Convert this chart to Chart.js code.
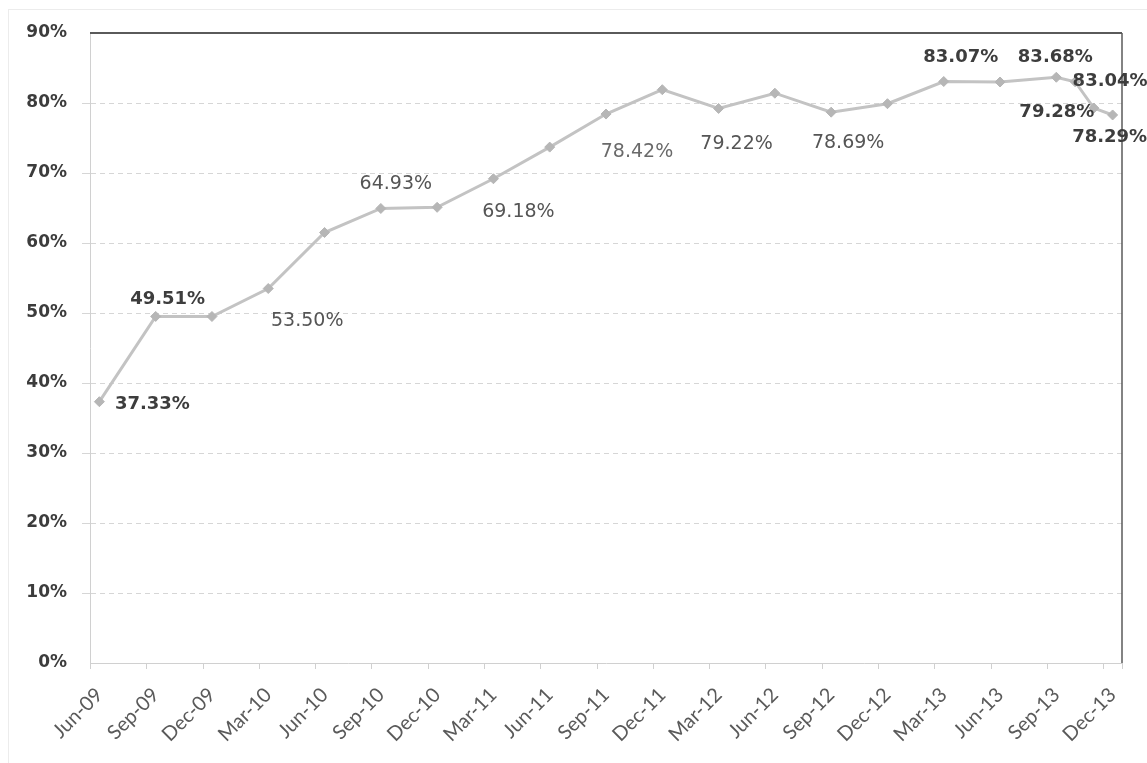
<!DOCTYPE html>
<html>
<head>
<meta charset="utf-8">
<script src="https://cdn.jsdelivr.net/npm/chart.js@4/dist/chart.umd.min.js"></script>
<style>
  html, body { margin: 0; padding: 0; background: #ffffff; }
  #wrap { width: 1147px; height: 763px; position: relative; }
</style>
</head>
<body>
<div id="wrap"><canvas id="c" width="1147" height="763"></canvas></div>
<script>
// ---- data ----
const quarterLabels = ["Jun-09","Sep-09","Dec-09","Mar-10","Jun-10","Sep-10","Dec-10","Mar-11","Jun-11","Sep-11","Dec-11","Mar-12","Jun-12","Sep-12","Dec-12","Mar-13","Jun-13","Sep-13","Dec-13"];
// month offset from Jun-09 for each observation
const monthIndex = [0,3,6,9,12,15,18,21,24,27,30,33,36,39,42,45,48,51,52,53,54];
const ratio = [37.33,49.51,49.5,53.50,61.5,64.93,65.1,69.18,73.7,78.42,81.9,79.22,81.4,78.69,79.9,83.07,83.0,83.68,83.04,79.28,78.29];
// which observations carry a value label
const labelled = [0,1,3,5,7,9,11,13,15,17,18,19,20];
const yTicks = [0,10,20,30,40,50,60,70,80,90];

// ---- label styling (offsets in px from point, weight) ----
const labelStyle = {
  0:  {dx: 53, dy: 3,   bold: true},
  1:  {dx: 12, dy: -17, bold: true},
  3:  {dx: 39, dy: 33,  bold: false},
  5:  {dx: 15, dy: -24, bold: false},
  7:  {dx: 25, dy: 33,  bold: false},
  9:  {dx: 31, dy: 38,  bold: false, light: true},
  11: {dx: 18, dy: 36,  bold: false},
  13: {dx: 17, dy: 31,  bold: false},
  15: {dx: 17, dy: -24, bold: true},
  17: {dx: -1, dy: -20, bold: true},
  18: {dx: 35, dy: 0,   bold: true},
  19: {dx: -37, dy: 4,  bold: true},
  20: {dx: -3, dy: 22,  bold: true}
};

const points = monthIndex.map((m, i) => ({x: m, y: ratio[i]}));
const tickMonths = quarterLabels.map((_, i) => i * 3);

const valueLabels = {
  id: 'valueLabels',
  afterDatasetsDraw(chart) {
    const ctx = chart.ctx;
    const meta = chart.getDatasetMeta(0);
    ctx.save();
    ctx.textAlign = 'center';
    ctx.textBaseline = 'middle';
    labelled.forEach(i => {
      const el = meta.data[i];
      const st = labelStyle[i];
      ctx.font = (st.bold ? 'bold 18px' : '19px') + ' "DejaVu Sans", sans-serif';
      ctx.fillStyle = st.bold ? '#3d3d3d' : (st.light ? '#6a6a6a' : '#555555');
      ctx.fillText(ratio[i].toFixed(2) + '%', el.x + st.dx, el.y + st.dy);
    });
    ctx.restore();
  }
};

const frame = {
  id: 'frame',
  beforeDraw(chart) {
    const ctx = chart.ctx;
    ctx.save();
    ctx.fillStyle = '#ffffff';
    ctx.fillRect(0, 0, chart.width, chart.height);
    ctx.strokeStyle = '#ececec';
    ctx.lineWidth = 1;
    ctx.strokeRect(8.5, 9.5, chart.width + 10, chart.height + 10);
    ctx.restore();
  },
  afterDatasetsDraw(chart) {
    const a = chart.chartArea;
    const ctx = chart.ctx;
    const xs = chart.scales.x;
    ctx.save();
    // x-axis tick marks between the monthly slots (Excel date-axis style)
    ctx.strokeStyle = '#d0d0d0';
    ctx.lineWidth = 1;
    ctx.beginPath();
    tickMonths.concat([54 + 3]).forEach(m => {
      const px = Math.round(xs.getPixelForValue(Math.min(m - 0.5, 54.5))) + 0.5;
      ctx.moveTo(px, a.bottom);
      ctx.lineTo(px, a.bottom + 6);
    });
    ctx.stroke();
    ctx.strokeStyle = '#5a5a5a';
    ctx.lineWidth = 2;
    ctx.beginPath();
    ctx.moveTo(a.left, a.top);
    ctx.lineTo(a.right, a.top);
    ctx.stroke();
    ctx.lineWidth = 1.5;
    ctx.beginPath();
    ctx.moveTo(a.right, a.top);
    ctx.lineTo(a.right, a.bottom);
    ctx.stroke();
    ctx.restore();
  }
};

new Chart(document.getElementById('c'), {
  type: 'line',
  data: {
    datasets: [{
      data: points,
      borderColor: '#c3c3c3',
      borderWidth: 3,
      tension: 0,
      pointStyle: 'rectRot',
      pointRadius: 5,
      pointBackgroundColor: '#b6b6b6',
      pointBorderColor: '#b6b6b6',
      pointBorderWidth: 1
    }]
  },
  options: {
    responsive: false,
    animation: false,
    events: [],
    layout: { padding: { top: 33, right: 25, left: 0, bottom: 0 } },
    plugins: { legend: { display: false }, tooltip: { enabled: false } },
    scales: {
      x: {
        type: 'linear',
        min: -0.5,
        max: 54.5,
        afterBuildTicks(scale) { scale.ticks = tickMonths.map(v => ({value: v})); },
        afterFit(scale) { scale.height = 100; scale.paddingRight = 0; scale.paddingLeft = 0; },
        ticks: {
          autoSkip: false,
          minRotation: 45,
          maxRotation: 45,
          padding: 20,
          color: '#5a5a5a',
          font: { family: 'Lato, sans-serif', size: 20 },
          callback: (v) => quarterLabels[Math.round(v / 3)]
        },
        grid: { drawOnChartArea: false, drawTicks: false, color: '#d0d0d0' },
        border: { display: true, color: '#d0d0d0', width: 1 }
      },
      y: {
        min: 0,
        max: 90,
        afterBuildTicks(scale) { scale.ticks = yTicks.map(v => ({value: v})); },
        afterFit(scale) { scale.width = 90; scale.paddingTop = 0; scale.paddingBottom = 0; },
        ticks: {
          padding: 15,
          color: '#3c3c3c',
          font: { family: '"DejaVu Sans", sans-serif', size: 17, weight: 'bold' },
          callback: (v) => v + '%'
        },
        grid: {
          color: (c) => (c.tick && (c.tick.value === 90 || c.tick.value === 0)) ? 'rgba(0,0,0,0)' : '#d6d6d6',
          tickLength: 8,
          lineWidth: 1
        },
        border: { display: true, color: '#d0d0d0', width: 1, dash: [5, 4] }
      }
    }
  },
  plugins: [frame, valueLabels]
});
</script>
</body>
</html>
